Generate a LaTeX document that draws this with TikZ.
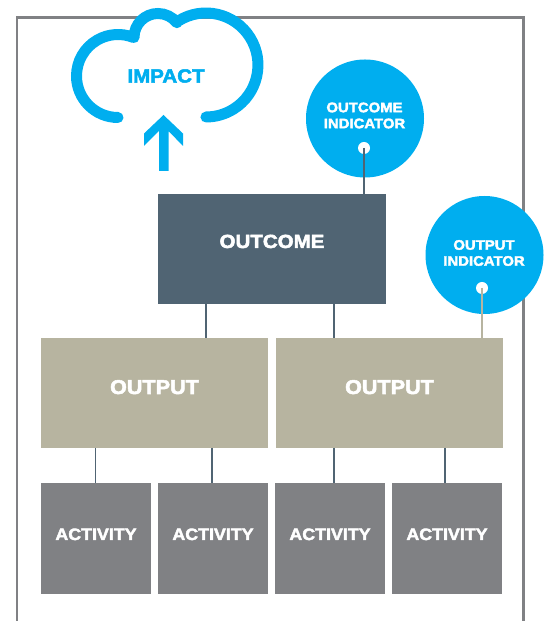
\documentclass[tikz,border=0pt]{standalone}
\usepackage{fontspec}
\setmainfont[BoldFont={Liberation Sans Bold},BoldFeatures={FakeBold=2.6,FakeStretch=1.08}]{Liberation Sans}
\usetikzlibrary{positioning}
\definecolor{cloudblue}{HTML}{00AEEF}
\definecolor{slateblue}{HTML}{506473}
\definecolor{khaki}{HTML}{B7B4A0}
\definecolor{midgrey}{HTML}{808184}

\begin{document}
\begin{tikzpicture}[x=1pt,y=1pt,inner sep=0pt,outer sep=0pt,text=white,font=\bfseries]
  \tikzstyle{outcomebox}=[fill=slateblue,minimum width=228pt,minimum height=110pt,font=\fontsize{19}{19}\bfseries,text height=0pt,text depth=2pt]
  \tikzstyle{outputbox}=[fill=khaki,minimum width=227pt,minimum height=110pt,font=\fontsize{20}{20}\bfseries,text height=2pt,text depth=0pt]
  \tikzstyle{activitybox}=[fill=midgrey,minimum width=110pt,minimum height=111pt,font=\fontsize{16.5}{16.5}\bfseries,text height=3pt,text depth=0pt]
  \tikzstyle{indicator}=[circle,fill=cloudblue,minimum size=118pt]
  \tikzstyle{indicatortext}=[align=center,text=white,font=\fontsize{13.8}{16}\bfseries]
  \tikzstyle{dotmark}=[circle,fill=white,minimum size=12pt]
  \tikzstyle{wire}=[draw=slateblue,line width=1.2pt]
  \useasboundingbox (0,0) rectangle (546,621);

  \draw[draw=midgrey,line width=2.5pt] (17,0) -- (17,603.5) -- (523.5,603.5) -- (523.5,0);

  \draw[cloudblue,line width=11pt,line cap=round]
  (118,503.5) arc[start angle=270,end angle=68,radius=41.5pt]
  (134,583.5) arc[start angle=180,end angle=38,radius=24pt]
  (178.4,600.1) arc[start angle=122,end angle=-90,radius=52pt];
  \fill[cloudblue] (163.5,506) -- (183,487.5) -- (183,475) -- (168.5,490) -- (168.5,450) -- (159,450) -- (159,490) -- (144,475) -- (144,487.5) -- cycle;
  \node[text=cloudblue,font=\fontsize{19}{19}\bfseries] (impact) at (166,545) {IMPACT};

  \node[outcomebox] (outcome) at (272,372) {OUTCOME};
  \node[outputbox] (outputa) at (154.5,228) {OUTPUT};
  \node[outputbox] (outputb) [right=8pt of outputa] {OUTPUT};
  \node[activitybox] (activitya) [below right=35pt and 0pt of outputa.south west] {ACTIVITY};
  \node[activitybox] (activityb) [right=7pt of activitya] {ACTIVITY};
  \node[activitybox] (activityc) [right=7pt of activityb] {ACTIVITY};
  \node[activitybox] (activityd) [right=7pt of activityc] {ACTIVITY};

  \node[indicator,label={[indicatortext,yshift=3pt,xshift=-0.5pt]center:OUTCOME\\INDICATOR}] (outcomeind) at (365,502.5) {};
  \node[indicator,label={[indicatortext,yshift=2pt,xshift=-0.5pt]center:OUTPUT\\INDICATOR}] (outputind) at (484.5,366) {};
  \node[dotmark] (outcomedot) at (364,473) {};
  \node[dotmark] (outputdot) at (482,333) {};

  \draw[wire] (outcomedot.center) -- (outcomedot.center |- outcome.north);
  \draw[wire,draw=khaki,line width=1.5pt] (outputdot.center) -- (outputdot.center |- outputb.north);
  \draw[wire] ([xshift=-66pt]outcome.south) -- ([xshift=-66pt]outcome.south |- outputa.north);
  \draw[wire] ([xshift=62pt]outcome.south) -- ([xshift=62pt]outcome.south |- outputb.north);
  \draw[wire] ([xshift=-59pt]outputa.south) -- ([xshift=-59pt]outputa.south |- activitya.north);
  \draw[wire] ([xshift=57.5pt]outputa.south) -- ([xshift=57.5pt]outputa.south |- activityb.north);
  \draw[wire] ([xshift=-55.5pt]outputb.south) -- ([xshift=-55.5pt]outputb.south |- activityc.north);
  \draw[wire] ([xshift=55.5pt]outputb.south) -- ([xshift=55.5pt]outputb.south |- activityd.north);
\end{tikzpicture}
\end{document}
